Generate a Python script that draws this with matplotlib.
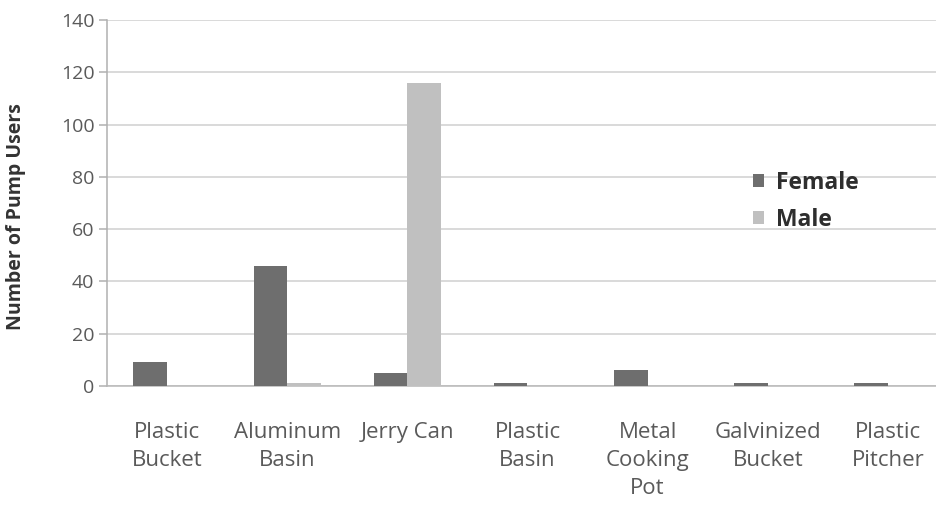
import matplotlib
matplotlib.use("Agg")
import matplotlib.pyplot as plt
import numpy as np

categories = ["Plastic\nBucket", "Aluminum\nBasin", "Jerry Can", "Plastic\nBasin",
              "Metal\nCooking\nPot", "Galvinized\nBucket", "Plastic\nPitcher"]
female = [9, 46, 5, 1, 6, 1, 1]
male = [0, 1, 116, 0, 0, 0, 0]
y_ticks = [0, 20, 40, 60, 80, 100, 120, 140]

plt.rcParams["font.family"] = ["Open Sans", "DejaVu Sans"]

W, H = 937, 508
fig = plt.figure(figsize=(W / 100, H / 100), dpi=100)
left, right, top, bottom = 107, 948, 20, 386
ax = fig.add_axes([left / W, (H - bottom) / H, (right - left) / W, (bottom - top) / H])

x = np.arange(len(categories))
bw = 0.28
c_f = "#6e6e6e"
c_m = "#c0c0c0"
ax.bar(x - bw / 2, female, bw, color=c_f, label="Female", zorder=3)
ax.bar(x + bw / 2, male, bw, color=c_m, label="Male", zorder=3)

ax.set_xlim(-0.5, len(categories) - 0.5)
ax.set_ylim(0, 140)
ax.set_yticks(y_ticks)
ax.yaxis.grid(True, color="#cfcfcf", linewidth=1.1, zorder=0)
ax.set_axisbelow(True)

for s in ["top", "right"]:
    ax.spines[s].set_visible(False)
ax.spines["left"].set_color("#b0b0b0")
ax.spines["bottom"].set_color("#b8b8b8")
ax.spines["left"].set_linewidth(1.1)
ax.spines["bottom"].set_linewidth(1.1)

ax.tick_params(axis="y", length=6, color="#b0b0b0", width=1.1,
               labelsize=14, labelcolor="#5a5a5a", pad=3)
ax.tick_params(axis="x", length=0, labelsize=16, labelcolor="#5a5a5a", pad=26)
ax.set_xticks(x)
ax.set_xticklabels(categories, linespacing=1.42, va="top")

ax.set_ylabel("Number of Pump Users", fontsize=14, fontweight="bold",
              color="#333333")
ax.yaxis.set_label_coords(-0.096, 0.464)

leg = ax.legend(loc="upper left", bbox_to_anchor=(753 / W, (H - 171) / H),
                bbox_transform=fig.transFigure, frameon=False,
                prop={"weight": "bold", "size": 16.5}, labelcolor="#2e2e2e",
                handlelength=0.5, handleheight=0.5, handletextpad=0.5,
                labelspacing=0.55, borderaxespad=0, borderpad=0)

fig.savefig("out.png", dpi=100, facecolor="white")
